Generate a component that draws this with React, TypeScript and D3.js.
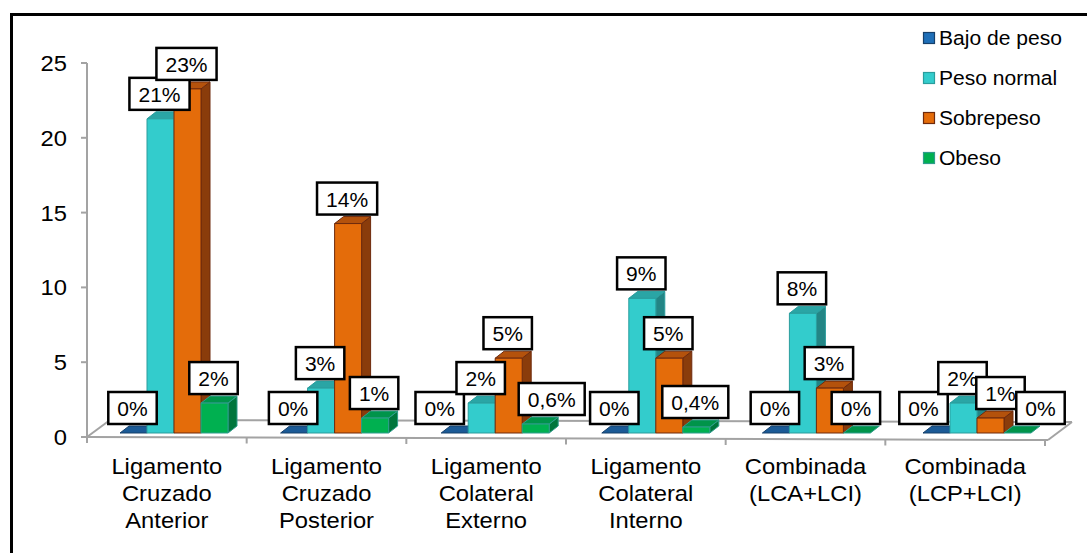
import React from "react";
import * as d3 from "d3";

// Injury type per category (each entry holds its wrapped label lines)
const categories: string[][] = [
  ["Ligamento", "Cruzado", "Anterior"],
  ["Ligamento", "Cruzado", "Posterior"],
  ["Ligamento", "Colateral", "Externo"],
  ["Ligamento", "Colateral", "Interno"],
  ["Combinada", "(LCA+LCI)"],
  ["Combinada", "(LCP+LCI)"],
];

const seriesNames = ["Bajo de peso", "Peso normal", "Sobrepeso", "Obeso"];

const bajoDePeso = [0, 0, 0, 0, 0, 0];
const pesoNormal = [21, 3, 2, 9, 8, 2];
const sobrepeso = [23, 14, 5, 5, 3, 1];
const obeso = [2, 1, 0.6, 0.4, 0, 0];

const yTicks = [0, 5, 10, 15, 20, 25];

// Horizontal nudges for labels that would otherwise collide [category][series]
const labelNudge: number[][] = [
  [0, 0, 0, 0],
  [0, 0, 0, 0],
  [-14, 0, 0, 17],
  [0, 0, 0, 0],
  [0, 0, 0, 0],
  [-12, 0, 11, 24],
];

const seriesValues = [bajoDePeso, pesoNormal, sobrepeso, obeso];

const faces = [
  { front: "#1f6fb8", top: "#1b5a96", side: "#174a7c", stroke: "#16406b" },
  { front: "#33cccc", top: "#2aa5a5", side: "#238585", stroke: "#2a9d9d" },
  { front: "#e46c0a", top: "#b4520c", side: "#8a3c0b", stroke: "#6e2a0d" },
  { front: "#00b050", top: "#00944a", side: "#00763c", stroke: "#2f9c8c" },
];

const SX = 1.08; // glyph widening used for all text
const FONT = "'Liberation Sans', Arial, sans-serif";

const W = 1087;
const H = 553;
const DX = 9;
const DY = 7;

const charW: Record<string, number> = { "%": 0.889, ",": 0.278 };
const textWidth = (s: string, size: number) =>
  s.split("").reduce((a, c) => a + (charW[c] ?? 0.556), 0) * size * SX;

const fmt = (v: number) => String(v).replace(".", ",") + "%";

function T(props: {
  x: number;
  y: number;
  size: number;
  anchor?: "start" | "middle" | "end";
  children: React.ReactNode;
}) {
  return (
    <text
      transform={`translate(${props.x},${props.y}) scale(${SX},1)`}
      textAnchor={props.anchor ?? "start"}
      fontFamily={FONT}
      fontSize={props.size}
      fill="#000"
    >
      {props.children}
    </text>
  );
}

export default function App() {
  const catKeys = categories.map((_, i) => String(i));

  // axis / floor geometry
  const axisX = d3.scaleBand<string>().domain(catKeys).range([87, 1045]);
  const yAxis = d3.scaleLinear().domain([0, 25]).range([437, 63]);
  // bars sit slightly behind the front edge of the floor
  const yBar = d3.scaleLinear().domain([0, 25]).range([433, 433 - 25 * 14.96]);
  const group = d3.scaleBand<string>().domain(catKeys).range([120, 120 + 6 * 160.6]);
  const sub = d3.scaleBand<string>().domain(seriesNames).range([0, 108]);

  const frontY = (x: number) => 437 + ((x - 87) / (1048 - 87)) * 3;
  const grey = "#a3a3a3";

  const bars: React.ReactNode[] = [];
  const labels: React.ReactNode[] = [];

  catKeys.forEach((ck, ci) => {
    seriesNames.forEach((sn, si) => {
      const v = seriesValues[si][ci];
      const x = (group(ck) ?? 0) + (sub(sn) ?? 0);
      const w = sub.bandwidth();
      const y0 = yBar(0);
      const y1 = yBar(v);
      const f = faces[si];
      bars.push(
        <g key={`b${ci}-${si}`} strokeWidth={1} stroke={f.stroke} strokeLinejoin="round">
          {v > 0 && (
            <polygon
              points={`${x + w},${y1} ${x + w + DX},${y1 - DY} ${x + w + DX},${y0 - DY} ${x + w},${y0}`}
              fill={f.side}
            />
          )}
          <polygon
            points={`${x},${y1} ${x + DX},${y1 - DY} ${x + w + DX},${y1 - DY} ${x + w},${y1}`}
            fill={f.top}
          />
          {v > 0 && <rect x={x} y={y1} width={w} height={y0 - y1} fill={f.front} />}
        </g>
      );

      const txt = fmt(v);
      const bw = textWidth(txt, 19.5) + 18;
      const bh = 32;
      const cx = x + w / 2 - 1 + labelNudge[ci][si];
      const bottom = y1 - 9;
      labels.push(
        <g key={`l${ci}-${si}`}>
          <rect
            x={cx - bw / 2}
            y={bottom - bh}
            width={bw}
            height={bh}
            fill="#fff"
            stroke="#000"
            strokeWidth={2.5}
          />
          <T x={cx} y={bottom - 8} size={19.5} anchor="middle">
            {txt}
          </T>
        </g>
      );
    });
  });

  const catBounds = [...catKeys.map((k) => axisX(k) ?? 0), 1045];

  return (
    <svg
      width={W}
      height={H}
      viewBox={`0 0 ${W} ${H}`}
      style={{ position: "absolute", left: 0, top: 0, background: "#fff" }}
    >
      {/* outer frame */}
      <rect x={11.5} y={14.5} width={1200} height={700} fill="#fff" stroke="#000" strokeWidth={3} />

      {/* floor */}
      <g stroke={grey} strokeWidth={2} fill="none">
        <line x1={87} y1={437} x2={110} y2={420} />
        <line x1={110} y1={420} x2={1072} y2={422} />
        <line x1={1048} y1={440} x2={1072} y2={422} />
        <line x1={87} y1={437} x2={1048} y2={440} />
        {catBounds.map((bx, i) => (
          <line key={i} x1={bx} y1={frontY(bx)} x2={bx} y2={frontY(bx) + 6} />
        ))}
      </g>

      {/* value axis */}
      <g stroke={grey} strokeWidth={2}>
        <line x1={87} y1={yAxis(25)} x2={87} y2={yAxis(0)} />
        {yTicks.map((t) => (
          <line key={t} x1={81} y1={yAxis(t)} x2={87} y2={yAxis(t)} />
        ))}
      </g>
      {yTicks.map((t) => (
        <T key={t} x={67} y={yAxis(t) + 8} size={22} anchor="end">
          {t}
        </T>
      ))}

      {bars}
      {labels}

      {/* category labels */}
      {categories.map((lines, i) => {
        const cx = (axisX(String(i)) ?? 0) + axisX.bandwidth() / 2;
        return lines.map((ln, j) => (
          <T key={`${i}-${j}`} x={cx} y={474 + j * 27} size={22} anchor="middle">
            {ln}
          </T>
        ));
      })}

      {/* legend */}
      {seriesNames.map((sn, i) => {
        const cy = 38 + i * 40;
        return (
          <g key={sn}>
            <rect
              x={923.5}
              y={cy - 5.5}
              width={11}
              height={11}
              fill={faces[i].front}
              stroke={faces[i].stroke}
              strokeWidth={1.2}
            />
            <T x={939} y={cy + 7} size={19.5}>
              {sn}
            </T>
          </g>
        );
      })}
    </svg>
  );
}
